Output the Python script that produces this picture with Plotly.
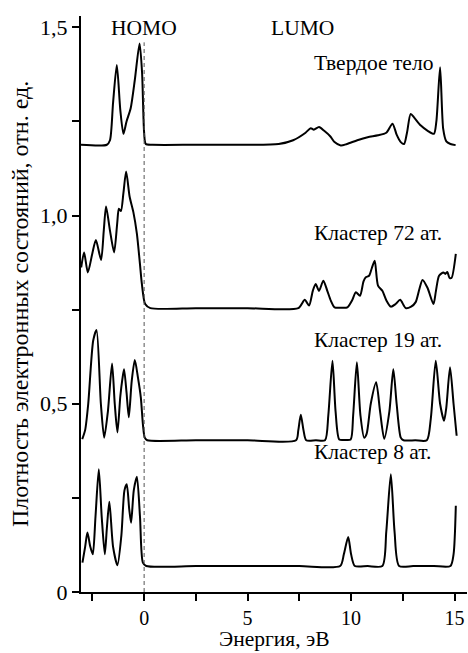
import plotly.graph_objects as go

# ---- data ----
solid_x = [-3.05, -1.8, -1.65, -1.5, -1.32, -1.15, -1.0, -0.85, -0.65, -0.45, -0.22, -0.1, 0.0, 0.08, 0.4,
           2.5, 5.0, 6.5, 7.2, 7.8, 8.05, 8.2, 8.45, 8.7, 9.0, 9.2, 9.5, 9.8, 10.3, 10.8, 11.3, 11.7, 12.0,
           12.2, 12.4, 12.56, 12.7, 12.88, 13.05, 13.37, 13.7, 14.0, 14.12, 14.3, 14.45, 14.6, 14.8, 15.05]
solid_y = [1.188, 1.188, 1.20, 1.30, 1.40, 1.28, 1.217, 1.25, 1.285, 1.36, 1.457, 1.38, 1.22, 1.19, 1.188,
           1.188, 1.188, 1.19, 1.20, 1.22, 1.232, 1.228, 1.235, 1.225, 1.21, 1.195, 1.186, 1.19, 1.20, 1.208,
           1.213, 1.22, 1.244, 1.215, 1.195, 1.19, 1.22, 1.27, 1.26, 1.239, 1.225, 1.217, 1.25, 1.394,
           1.23, 1.197, 1.19, 1.187]

c72_x = [-3.04, -2.9, -2.72, -2.5, -2.33, -2.08, -1.95, -1.84, -1.65, -1.45, -1.3, -1.22, -1.12, -1.0,
         -0.87, -0.7, -0.52, -0.35, -0.2, -0.11, 0.05, 0.3, 2.5, 5.0, 7.45, 7.76, 7.97, 8.15, 8.29, 8.45, 8.66,
         8.85, 9.02, 9.2, 9.5, 9.82, 10.05, 10.23, 10.43, 10.6, 10.71, 10.87, 11.0, 11.14, 11.3, 11.51, 11.7,
         11.92, 12.15, 12.37, 12.64, 12.9, 13.12, 13.3, 13.45, 13.69, 13.98, 14.1, 14.25, 14.46, 14.55,
         14.65, 14.75, 14.85, 15.06]
c72_y = [0.862, 0.902, 0.849, 0.90, 0.935, 0.882, 0.96, 1.024, 0.96, 0.902, 0.98, 1.018, 1.012, 1.06,
         1.117, 1.05, 1.009, 0.952, 0.87, 0.819, 0.765, 0.754, 0.754, 0.754, 0.754, 0.776, 0.761, 0.80, 0.818, 0.80,
         0.827, 0.80, 0.774, 0.756, 0.755, 0.756, 0.775, 0.796, 0.787, 0.825, 0.836, 0.840, 0.86, 0.880, 0.814,
         0.80, 0.775, 0.758, 0.765, 0.776, 0.754, 0.758, 0.77, 0.805, 0.829, 0.808, 0.765, 0.80, 0.840,
         0.849, 0.845, 0.850, 0.835, 0.834, 0.898]

c19_x = [-2.99, -2.85, -2.7, -2.46, -2.3, -2.09, -1.93, -1.75, -1.55, -1.42, -1.29, -1.15, -1.05, -0.97,
         -0.85, -0.74, -0.6, -0.45, -0.3, -0.16, -0.05, 0.03, 0.15, 2.5, 5.0, 7.34, 7.45, 7.57, 7.7, 7.83,
         8.3, 8.74, 8.9, 9.1, 9.25, 9.43, 9.7, 9.98, 10.1, 10.28, 10.45, 10.63, 10.75, 10.95, 11.21, 11.4,
         11.6, 11.85, 12.04, 12.2, 12.4, 12.53, 13.1, 13.66, 13.85, 14.09, 14.3, 14.49, 14.6, 14.78, 14.95, 15.1]
c19_y = [0.406, 0.43, 0.50, 0.668, 0.696, 0.50, 0.41, 0.48, 0.607, 0.50, 0.424, 0.52, 0.566, 0.592,
         0.53, 0.464, 0.56, 0.616, 0.57, 0.517, 0.44, 0.41, 0.403, 0.403, 0.403, 0.403, 0.43, 0.471, 0.43, 0.403,
         0.403, 0.403, 0.47, 0.614, 0.48, 0.405, 0.404, 0.405, 0.47, 0.61, 0.47, 0.41, 0.42, 0.50, 0.557, 0.48,
         0.407, 0.48, 0.592, 0.50, 0.41, 0.403, 0.403, 0.403, 0.46, 0.614, 0.50, 0.455, 0.49, 0.597, 0.50, 0.415]

c8_x = [-2.98, -2.85, -2.74, -2.6, -2.48, -2.35, -2.19, -2.05, -1.9, -1.8, -1.68, -1.5, -1.29, -1.1,
        -0.95, -0.84, -0.72, -0.63, -0.5, -0.35, -0.2, -0.06, 0.1, 2.5, 5.0, 7.5, 9.47, 9.65, 9.86, 10.0,
        10.18, 10.8, 11.51, 11.7, 11.92, 12.1, 12.32, 13.0, 14.0, 14.8, 14.95, 15.06]
c8_y = [0.078, 0.12, 0.158, 0.12, 0.10, 0.20, 0.326, 0.20, 0.10, 0.17, 0.24, 0.12, 0.071, 0.15, 0.27,
        0.286, 0.22, 0.184, 0.27, 0.306, 0.20, 0.078, 0.069, 0.069, 0.069, 0.069, 0.069, 0.10, 0.146, 0.10,
        0.069, 0.069, 0.069, 0.16, 0.313, 0.16, 0.069, 0.069, 0.069, 0.069, 0.10, 0.229]

series_labels = ["Твердое тело", "Кластер 72 ат.", "Кластер 19 ат.", "Кластер 8 ат."]
label_y = [1.405, 0.953, 0.669, 0.372]
label_x = 8.1

y_tickvals = [0, 0.5, 1.0, 1.5]
y_ticktext = ["0", "0,5", "1,0", "1,5"]
x_tickvals = [0, 5, 10, 15]

FONT = "Liberation Serif"

fig = go.Figure()
for xs, ys, name in [(solid_x, solid_y, series_labels[0]), (c72_x, c72_y, series_labels[1]),
                     (c19_x, c19_y, series_labels[2]), (c8_x, c8_y, series_labels[3])]:
    fig.add_trace(go.Scatter(x=xs, y=ys, mode="lines", name=name,
                             line=dict(color="black", width=2, shape="spline", smoothing=0.7),
                             showlegend=False))

# dashed Fermi line
fig.add_trace(go.Scatter(x=[0, 0], y=[0, 1.46], mode="lines",
                         line=dict(color="#555555", width=1, dash="4px,3px"), showlegend=False))

ann = []
for t, yy in zip(series_labels, label_y):
    ann.append(dict(x=label_x, y=yy, text=t, showarrow=False, xanchor="left", yanchor="middle",
                    font=dict(family=FONT, size=21.5, color="black")))
ann.append(dict(x=0, y=1.498, text="HOMO", showarrow=False, xanchor="center", yanchor="middle",
                font=dict(family=FONT, size=21.5, color="black")))
ann.append(dict(x=7.67, y=1.498, text="LUMO", showarrow=False, xanchor="center", yanchor="middle",
                font=dict(family=FONT, size=21.5, color="black")))
ann.append(dict(xref="paper", yref="paper", x=-0.158, y=0.5, text="Плотность электронных состояний, отн. ед.",
                textangle=-90, showarrow=False, xanchor="center", yanchor="middle",
                font=dict(family=FONT, size=24, color="black")))
ann.append(dict(xref="paper", yref="paper", x=0.5, y=-0.1055, text="Энергия, эВ",
                showarrow=False, xanchor="center", yanchor="bottom",
                font=dict(family=FONT, size=21.5, color="black")))

fig.update_layout(
    width=468, height=653,
    margin=dict(l=81, r=1, t=16, b=61),
    paper_bgcolor="white", plot_bgcolor="white",
    annotations=ann,
    font=dict(family=FONT, size=20, color="black"),
)
fig.update_xaxes(range=[-3.05, 15.6], showgrid=False, zeroline=False,
                 showline=True, linecolor="black", linewidth=2,
                 ticks="outside", ticklen=7, tickwidth=2, tickcolor="black",
                 tickvals=x_tickvals, tickfont=dict(family=FONT, size=20),
                 minor=dict(ticks="outside", ticklen=7, tickwidth=2, tickcolor="black",
                            tickvals=[-2.5, 2.5, 7.5, 12.5]))
fig.update_yaxes(range=[0, 1.53], showgrid=False, zeroline=False,
                 showline=True, linecolor="black", linewidth=2,
                 ticks="outside", ticklen=7, tickwidth=2, tickcolor="black",
                 tickvals=y_tickvals, ticktext=y_ticktext, tickfont=dict(family=FONT, size=22),
                 minor=dict(ticks="outside", ticklen=7, tickwidth=2, tickcolor="black",
                            tickvals=[0.25, 0.75, 1.25]))

# remove the default page margin so the figure fills the 468x653 window exactly
fig.write_html("out.html", config={"displayModeBar": False},
               post_script="document.body.style.margin='0';document.body.style.overflow='hidden';")
